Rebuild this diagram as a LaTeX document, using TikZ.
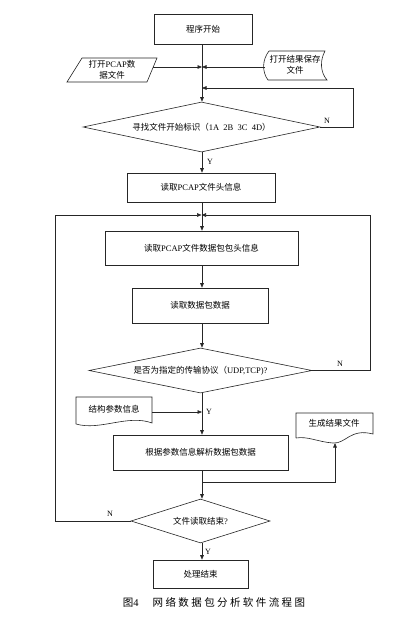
\documentclass[tikz,border=0pt]{standalone}
\usepackage{fontspec}
\setmainfont{Liberation Serif}
\newfontfamily\cjk{Noto Sans CJK SC}
\usetikzlibrary{arrows.meta,shapes.geometric}
\newcommand{\zh}[1]{{\cjk #1}}
\newcommand{\lsp}{\hspace{2.4pt}}
\tikzset{
  ln/.style={draw=black!85,line width=0.6pt},
  arr/.style={ln,-{Triangle[length=4.5pt,width=3.6pt]}},
  box/.style={ln,rectangle,inner sep=0pt,font=\fontsize{8.5}{10}\selectfont},
  dia/.style={ln,diamond,inner sep=0pt},
  txt/.style={inner sep=0pt,font=\fontsize{8.5}{10.5}\selectfont,align=center},
  lab/.style={inner sep=0pt,font=\fontsize{8}{9}\selectfont},
}
\begin{document}
\begin{tikzpicture}[x=1pt,y=-1pt]
\useasboundingbox (0,0) rectangle (411,629);
\fill[white] (0,0) rectangle (411,629);

% boxes
\node[box,minimum width=98pt,minimum height=30pt] (start) at (203,29) {\zh{程序开始}};
\node[box,minimum width=148pt,minimum height=29pt] (hdr) at (201,187.5) {\zh{读取}PCAP\zh{文件头信息}};
\node[box,minimum width=193pt,minimum height=34pt] (pkh) at (201.5,248) {\zh{读取}PCAP\zh{文件数据包包头信息}};
\node[box,minimum width=136pt,minimum height=35pt] (pkd) at (200,305.5) {\zh{读取数据包数据}};
\node[box,minimum width=175pt,minimum height=35pt] (parse) at (200.5,452.5) {\zh{根据参数信息解析数据包数据}};
\node[box,minimum width=95pt,minimum height=28pt] (end) at (200.5,574) {\zh{处理结束}};

% diamonds
\node[dia,minimum width=237pt,minimum height=50pt] (d1) at (201.5,127) {};
\node[txt] (d1t) at (201.5,127) {\zh{寻找文件开始标识（}1A\ \ 2B\ \ 3C\ \ 4D\zh{）}};
\node[dia,minimum width=223pt,minimum height=45pt] (d2) at (200.5,370.5) {};
\node[txt] (d2t) at (200.5,370.5) {\zh{是否为指定的传输协议（}UDP,TCP)?};
\node[dia,minimum width=139pt,minimum height=44pt] (d3) at (200.5,521) {};
\node[txt] (d3t) at (200.5,521) {\zh{文件读取结束}?};

% parallelogram: open PCAP data file
\draw[ln] (82,58) -- (157,58) -- (147,82) -- (67,82) -- cycle;
\node[txt] (pcap) at (112,70) {\zh{打开}PCAP\zh{数}\\\zh{据文件}};
\coordinate (pcapR) at (153,67);

% tape: open result file
\draw[ln] (269,51) -- (325,51) .. controls (320,60) and (320,72) .. (327,80)
  -- (268,80) .. controls (262,72) and (262,60) .. (269,51);
\node[txt] (save) at (295,65) {\zh{打开结果保存}\\\zh{文件}};
\coordinate (saveL) at (265,67);

% document: structure parameter info
\draw[ln] (76,424) -- (76,397) -- (152,397) -- (152,423)
  .. controls (128,414) and (100,431) .. (76,424);
\node[txt] (param) at (114,409) {\zh{结构参数信息}};
\coordinate (paramR) at (152,412);

% document: generate result file
\draw[ln] (296,438) -- (296,413) -- (373,413) -- (373,434)
  .. controls (350,428) and (346,444) .. (333,443)
  .. controls (318,442) and (308,436) .. (296,438);
\node[txt] (res) at (334,423) {\zh{生成结果文件}};
\coordinate (resB) at (335,443);

% junction coordinates on main line
\coordinate (j1) at (202,67);
\coordinate (j2) at (202,88);
\coordinate (j3) at (201.5,215);
\coordinate (j4) at (202,412);
\coordinate (j5) at (202,482);

% main flow
\draw[arr] (start.south -| j1) -- (d1.north -| j1);
\draw[arr] (pcapR) -- (j1);
\draw[arr] (saveL) -- (j1);
\draw[arr] (d1.east) -- (353,127) -- (353,88) -- (j2);
\draw[arr] (d1.south -| j1) -- (hdr.north -| j1);
\draw[arr] (hdr.south -| j1) -- (pkh.north -| j1);
\draw[arr] (pkh.south -| j1) -- (pkd.north -| j1);
\draw[arr] (pkd.south -| j1) -- (d2.north -| j1);
\draw[arr] (d2.east) -- (370,370.5) -- (370,215) -- (j3);
\draw[arr] (d2.south -| j1) -- (parse.north -| j1);
\draw[arr] (paramR) -- (j4);
\draw[arr] (parse.south -| j1) -- (d3.north -| j1);
\draw[arr] (j5) -- (resB |- j5) -- (resB);
\draw[arr] (d3.west) -- (55,521) -- (55,215) -- (j3);
\draw[arr] (d3.south -| j1) -- (end.north -| j1);

% labels
\node[lab] (n1) at (327,121) {N};
\node[lab] (y1) at (210,162) {Y};
\node[lab] (n2) at (340,364) {N};
\node[lab] (y2) at (209,412) {Y};
\node[lab] (n3) at (110,514) {N};
\node[lab] (y3) at (208,552) {Y};

% caption
\node[inner sep=0pt,font=\fontsize{10.5}{12}\selectfont] (cap) at (214,602)
  {\zh{图}4\hspace{14pt}\zh{网\lsp 络\lsp 数\lsp 据\lsp 包\lsp 分\lsp 析\lsp 软\lsp 件\lsp 流\lsp 程\lsp 图}};
\end{tikzpicture}
\end{document}
